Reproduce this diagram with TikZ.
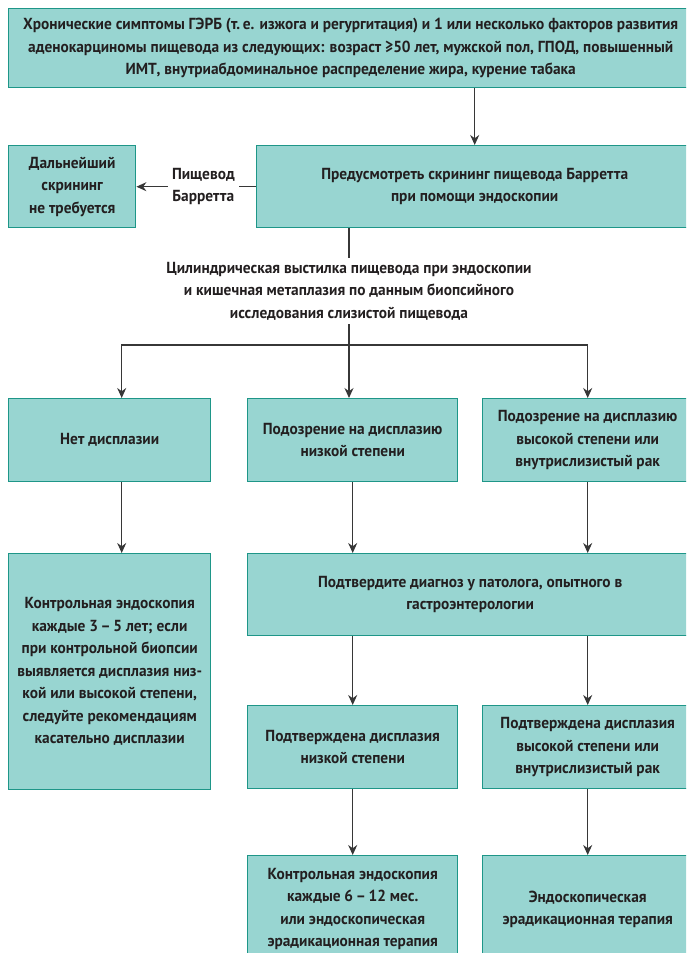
\documentclass[tikz,border=0pt]{standalone}
\usepackage{fontspec}
\setmainfont{PT Sans}[FakeStretch=0.96]
\usetikzlibrary{arrows.meta}
\definecolor{cbox}{RGB}{152,213,209}
\definecolor{cedge}{RGB}{30,150,136}
\definecolor{cline}{RGB}{55,55,55}
\definecolor{ctext}{RGB}{35,31,32}
\newcommand{\flowfont}{\bfseries\fontsize{16}{22.5}\selectfont}

\begin{document}
\begin{tikzpicture}[x=1pt, y=-1pt, >={Stealth[length=10pt, width=9pt]},
  box/.style={draw=cedge, fill=cbox, line width=1.4pt, align=center,
    text=ctext, font=\flowfont, inner sep=0pt, anchor=north west},
  conn/.style={draw=cline, line width=1.2pt},
  lbl/.style={align=center, text=ctext, font=\flowfont, inner sep=4pt}]
\clip (0,0) rectangle (686,953);
% first row
\node[box, minimum width=684pt, minimum height=79pt] (gerd) at (8,8)
  {Хронические симптомы ГЭРБ (т.\,е. изжога и регургитация) и 1 или несколько факторов развития\\
   аденокарциномы пищевода из следующих: возраст ≥50 лет, мужской пол, ГПОД, повышенный\\
   ИМТ, внутриабдоминальное распределение жира, курение табака};
\node[box, minimum width=436pt, minimum height=82pt] (screen) at (256,145)
  {Предусмотреть скрининг пищевода Барретта\\при помощи эндоскопии};
\node[box, minimum width=127pt, minimum height=82pt] (nofurther) at (8,145)
  {Дальнейший\\скрининг\\не требуется};
\node[lbl] (finding) at (349,291)
  {Цилиндрическая выстилка пищевода при эндоскопии\\
   и кишечная метаплазия по данным биопсийного\\
   исследования слизистой пищевода};
\coordinate (bus) at (349,345);
% biopsy results
\node[box, minimum width=202pt, minimum height=83pt] (nodys) at (8,398)
  {Нет дисплазии};
\node[box, minimum width=210pt, minimum height=83pt] (lgd) at (247,398)
  {Подозрение на дисплазию\\низкой степени};
\node[box, minimum width=210pt, minimum height=83pt] (hgd) at (482,398)
  {Подозрение на дисплазию\\высокой степени или\\внутрислизистый рак};
\node[box, minimum width=202pt, minimum height=236pt] (surv) at (8,553)
  {Контрольная эндоскопия\\каждые 3\,–\,5 лет; если\\при контрольной биопсии\\
   выявляется дисплазия низ-\\кой или высокой степени,\\следуйте рекомендациям\\
   касательно дисплазии};
\node[box, minimum width=445pt, minimum height=82pt] (confirm) at (247,553)
  {Подтвердите диагноз у патолога, опытного в\\гастроэнтерологии};
\node[box, minimum width=210pt, minimum height=83pt] (clgd) at (247,705)
  {Подтверждена дисплазия\\низкой степени};
\node[box, minimum width=210pt, minimum height=83pt] (chgd) at (482,705)
  {Подтверждена дисплазия\\высокой степени или\\внутрислизистый рак};
\node[box, minimum width=210pt, minimum height=107pt] (lgdtx) at (247,855)
  {Контрольная эндоскопия\\каждые 6\,–\,12 мес.\\или эндоскопическая\\эрадикационная терапия};
\node[box, minimum width=210pt, minimum height=107pt] (hgdtx) at (482,855)
  {Эндоскопическая\\эрадикационная терапия};
% connectors
\draw[conn, ->] (gerd.south -| screen.north) -- (screen.north);
\draw[conn, ->] (screen.west) -- node[lbl, fill=white, pos=0.44] {Пищевод\\Барретта} (nofurther.east);
\draw[conn] (screen.south -| finding.north) -- (finding.north);
\draw[conn] (finding.south) -- (bus);
\draw[conn, ->] (bus) -| ([xshift=12pt]nodys.north);
\draw[conn, ->] (bus) -- (bus |- lgd.north);
\draw[conn, ->] (bus) -| (hgd.north);
\draw[conn, ->] ([xshift=12pt]nodys.south) -- ([xshift=12pt]surv.north);
\draw[conn, ->] (lgd.south) -- (lgd.south |- confirm.north);
\draw[conn, ->] (hgd.south) -- (hgd.south |- confirm.north);
\draw[conn, ->] (clgd.north |- confirm.south) -- (clgd.north);
\draw[conn, ->] (chgd.north |- confirm.south) -- (chgd.north);
\draw[conn, ->] (clgd.south) -- (lgdtx.north);
\draw[conn, ->] (chgd.south) -- (hgdtx.north);
\end{tikzpicture}
\end{document}
